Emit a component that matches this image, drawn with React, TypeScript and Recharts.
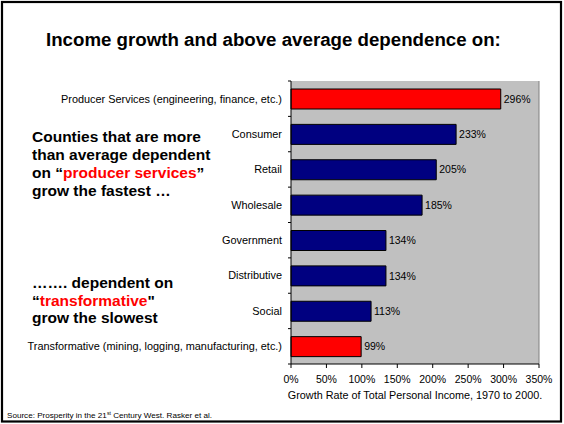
import React from 'react';
import { BarChart, Bar, XAxis, YAxis, CartesianGrid, LabelList, Cell, ReferenceLine } from 'recharts';

const categories = [
  'Producer Services (engineering, finance, etc.)',
  'Consumer',
  'Retail',
  'Wholesale',
  'Government',
  'Distributive',
  'Social',
  'Transformative (mining, logging, manufacturing, etc.)',
];
const growth = [296, 233, 205, 185, 134, 134, 113, 99];
const highlighted = [true, false, false, false, false, false, false, true];
const xTicks = [0, 50, 100, 150, 200, 250, 300, 350];

const data = categories.map((name, i) => ({ name, growth: growth[i], hi: highlighted[i] }));

const FONT = '"Liberation Sans", Arial, sans-serif';

// category label plus the small outward tick at each band boundary
const CatTick = (props: any) => {
  const { x, y, payload, index } = props;
  const half = payload && payload.offset ? payload.offset : 17.7;
  const axisX = x + 9;
  return (
    <g>
      <text x={x} y={y} dy="0.35em" textAnchor="end" fontSize={10.9} fill="#000" fontFamily={FONT}>
        {payload.value}
      </text>
      <line x1={axisX - 3} x2={axisX} y1={y - half} y2={y - half} stroke="#000" />
      {index === categories.length - 1 && (
        <line x1={axisX - 3} x2={axisX} y1={y + half} y2={y + half} stroke="#000" />
      )}
    </g>
  );
};

export default function App() {
  return (
    <div style={{ position: 'absolute', left: 0, top: 0, width: 564, height: 424, background: '#fff', fontFamily: FONT }}>
      <BarChart
        width={564}
        height={424}
        data={data}
        layout="vertical"
        margin={{ top: 81, right: 25, bottom: 30, left: 0 }}
      >
        <CartesianGrid horizontal={false} vertical={false} fill="#C0C0C0" />
        <XAxis
          type="number"
          domain={[0, 350]}
          ticks={xTicks}
          interval={0}
          tickFormatter={(v: number) => `${v}%`}
          axisLine={{ stroke: '#000' }}
          tickLine={{ stroke: '#000' }}
          tickSize={4}
          tickMargin={8}
          height={30}
          tick={{ fontSize: 10.5, fill: '#000', fontFamily: FONT }}
        />
        <YAxis
          type="category"
          dataKey="name"
          width={291}
          interval={0}
          axisLine={{ stroke: '#000' }}
          tickLine={false}
          tickSize={3}
          tickMargin={6}
          tick={<CatTick />}
        />
        <ReferenceLine x={350} stroke="#808080" />
        <Bar dataKey="growth" barSize={20} stroke="#000" strokeWidth={1} isAnimationActive={false}>
          {data.map((d, i) => (
            <Cell key={i} fill={d.hi ? '#FF0000' : '#000080'} />
          ))}
          <LabelList
            dataKey="growth"
            position="right"
            offset={3}
            formatter={(v: any) => `${v}%`}
            style={{ fontSize: 10.5, fill: '#000', fontFamily: FONT }}
          />
        </Bar>
      </BarChart>

      <svg
        width={564}
        height={424}
        style={{ position: 'absolute', left: 0, top: 0, pointerEvents: 'none' }}
        fontFamily={FONT}
      >
        <rect x={2} y={2} width={559} height={419.5} fill="none" stroke="#000" strokeWidth={2.2} />
        <text x={46} y={45.7} fontSize={18.7} fontWeight="bold" fill="#000">
          Income growth and above average dependence on:
        </text>

        <g fontSize={15.5} fontWeight="bold" fill="#000">
          <text x={32} y={141.7}>Counties that are more</text>
          <text x={32} y={160}>than average dependent</text>
          <text x={32} y={178.3}>
            on “<tspan fill="#FF0000">producer services</tspan>”
          </text>
          <text x={32} y={196}>grow the fastest …</text>

          <text x={32} y={288.3}>……. dependent on</text>
          <text x={32} y={306}>
            “<tspan fill="#FF0000">transformative</tspan>"
          </text>
          <text x={32} y={323.3}>grow the slowest</text>
        </g>

        <text x={415} y={399} textAnchor="middle" fontSize={10.8} fill="#000">
          Growth Rate of Total Personal Income, 1970 to 2000.
        </text>

        <text x={7} y={418} fontSize={8.1} fill="#000">
          Source: Prosperity in the 21<tspan dy={-3.2} fontSize={5.2}>st</tspan>
          <tspan dy={3.2}> Century West. Rasker et al.</tspan>
        </text>
      </svg>
    </div>
  );
}
